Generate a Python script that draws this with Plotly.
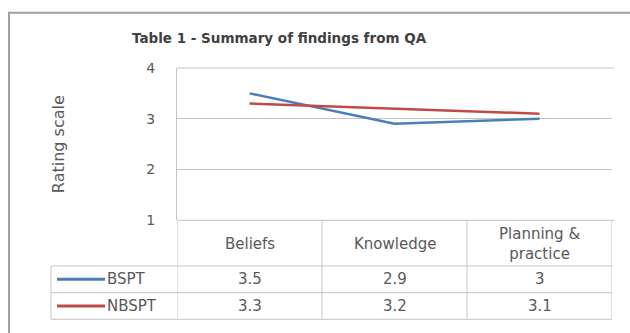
import plotly.graph_objects as go

# ---- data ----
categories = ["Beliefs", "Knowledge", "Planning &<br>practice"]
series_names = ["BSPT", "NBSPT"]
bspt = [3.5, 2.9, 3]
nbspt = [3.3, 3.2, 3.1]
y_ticks = [1, 2, 3, 4]
title_text = "Table 1 - Summary of findings from QA"
y_title = "Rating scale"

series_values = [bspt, nbspt]
colors = ["#4A7EBB", "#BE4B48"]

W, H = 630, 333
FONT = "DejaVu Sans"
TXT = "#595959"
GRID = "#C4C4C4"

def px(x):
    return x / W

def py(y):
    return 1 - y / H

# layout geometry (pixels)
PL, PR = 177, 612          # plot left/right
PT, PB = 63, 223           # plot top (y=4) / bottom (y=1)
LEG_L = 51                 # legend column left
ROW_Y = [223, 271, 299, 327]  # table row boundaries

x_idx = list(range(len(categories)))
n = len(categories)

fig = go.Figure()
for name, vals, col in zip(series_names, series_values, colors):
    fig.add_trace(go.Scatter(
        x=x_idx, y=vals, mode="lines", name=name,
        line=dict(color=col, width=2.5), showlegend=False,
    ))

shapes = []
annotations = []

# outer chart frame
shapes.append(dict(type="rect", xref="paper", yref="paper",
                   x0=px(9), x1=px(700), y0=py(5), y1=py(400),
                   line=dict(color="#A0A0A0", width=2), layer="below"))

# gridlines at the range ends (plotly skips them) - paper coords so not clipped
for yy in (PT, PB):
    shapes.append(dict(type="line", xref="paper", yref="paper",
                       x0=px(PL), x1=px(PR + 2), y0=py(yy), y1=py(yy),
                       line=dict(color=GRID, width=1), layer="above"))

# table horizontal lines
for yy in ROW_Y[1:]:
    shapes.append(dict(type="line", xref="paper", yref="paper",
                       x0=px(LEG_L), x1=px(PR), y0=py(yy), y1=py(yy),
                       line=dict(color=GRID, width=1)))
# table vertical lines (category column boundaries, in data coords)
for i in range(n + 1):
    xb = i - 0.5
    shapes.append(dict(type="line", xref="x", yref="paper",
                       x0=xb, x1=xb, y0=py(ROW_Y[0]), y1=py(ROW_Y[-1]),
                       line=dict(color=GRID, width=1)))
# legend column left edge
shapes.append(dict(type="line", xref="paper", yref="paper",
                   x0=px(LEG_L), x1=px(LEG_L), y0=py(ROW_Y[1]), y1=py(ROW_Y[-1]),
                   line=dict(color=GRID, width=1)))

FS = 15
# header labels
hdr_y = (ROW_Y[0] + ROW_Y[1]) / 2
for i, c in enumerate(categories):
    annotations.append(dict(xref="x", yref="paper", x=i, y=py(hdr_y + 1),
                            text=c, showarrow=False, xanchor="center", yanchor="middle",
                            font=dict(family=FONT, size=FS, color=TXT)))

# value rows + legend keys
for r, (name, vals, col) in enumerate(zip(series_names, series_values, colors)):
    yc = (ROW_Y[r + 1] + ROW_Y[r + 2]) / 2
    for i, v in enumerate(vals):
        annotations.append(dict(xref="x", yref="paper", x=i, y=py(yc),
                                text=f"{v:g}", showarrow=False,
                                xanchor="center", yanchor="middle",
                                font=dict(family=FONT, size=FS, color=TXT)))
    shapes.append(dict(type="line", xref="paper", yref="paper",
                       x0=px(57), x1=px(105), y0=py(yc), y1=py(yc),
                       line=dict(color=col, width=3)))
    annotations.append(dict(xref="paper", yref="paper", x=px(105), y=py(yc),
                            text=name, showarrow=False, xanchor="left", yanchor="middle",
                            font=dict(family=FONT, size=FS, color=TXT)))

# title
annotations.append(dict(xref="paper", yref="paper", x=px(279), y=py(32),
                        text=f"<b>{title_text}</b>", showarrow=False,
                        xanchor="center", yanchor="middle",
                        font=dict(family=FONT, size=13.5, color="#404040")))
# y axis title
annotations.append(dict(xref="paper", yref="paper", x=px(58), y=py(143),
                        text=y_title, showarrow=False, textangle=-90,
                        xanchor="center", yanchor="middle",
                        font=dict(family=FONT, size=16, color=TXT)))

fig.update_layout(
    width=W, height=H,
    margin=dict(l=0, r=0, t=0, b=0),
    paper_bgcolor="white", plot_bgcolor="white",
    showlegend=False,
    xaxis=dict(domain=[px(PL), px(PR)], range=[-0.5, n - 0.5],
               showticklabels=False, showgrid=False, zeroline=False,
               showline=False, fixedrange=True),
    yaxis=dict(domain=[py(PB), py(PT)], range=[1, 4],
               tickvals=y_ticks, ticktext=[str(t) for t in y_ticks],
               showgrid=True, gridcolor=GRID, gridwidth=1,
               zeroline=False, showline=True, linecolor=GRID, linewidth=1,
               ticks="", ticklabelstandoff=18,
               tickfont=dict(family=FONT, size=14, color=TXT), fixedrange=True),
    shapes=shapes, annotations=annotations,
)

fig.write_html("out.html")
